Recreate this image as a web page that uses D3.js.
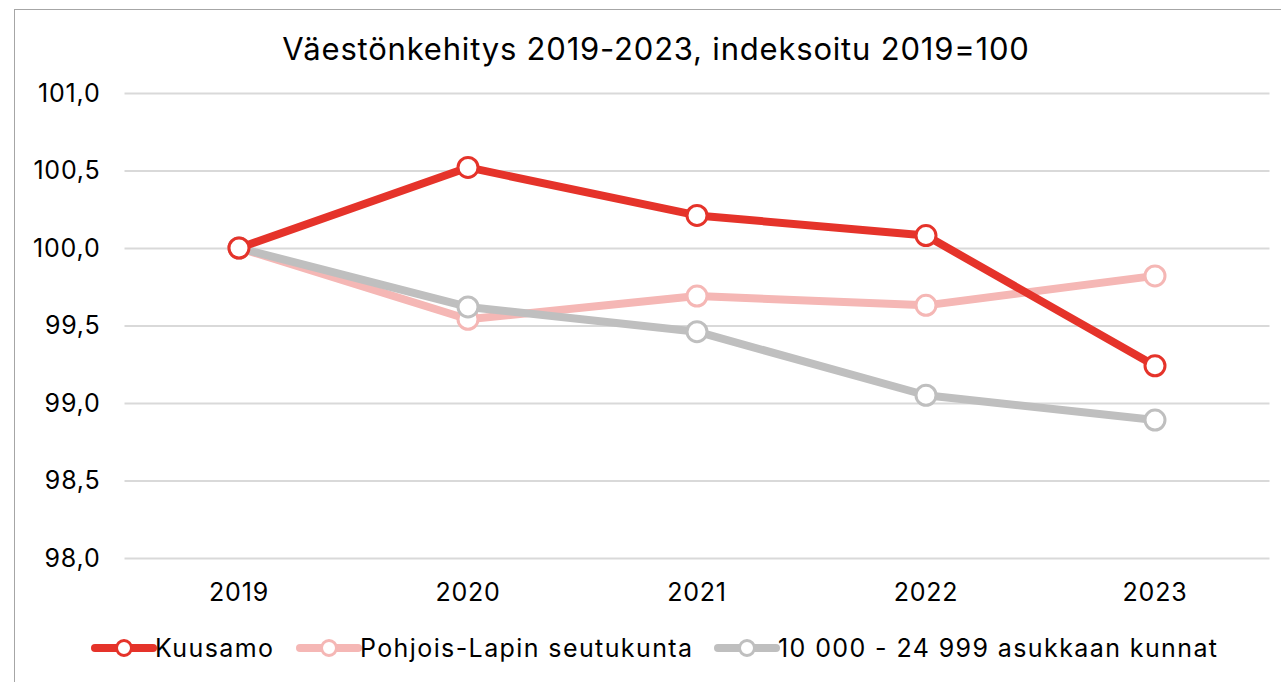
<!DOCTYPE html>
<html><head><meta charset="utf-8">
<script src="https://cdn.jsdelivr.net/npm/d3@7"></script>
<style>body{margin:0;background:#fff;} svg{display:block;font-family:Inter,"Open Sans",sans-serif;}</style>
</head><body>
<script>
const years = ["2019","2020","2021","2022","2023"];
const kuusamo = [100.0, 100.52, 100.21, 100.08, 99.24];
const pohjoisLappi = [100.0, 99.54, 99.69, 99.63, 99.82];
const kunnat = [100.0, 99.62, 99.46, 99.05, 98.89];
const seriesNames = ["Kuusamo","Pohjois-Lapin seutukunta","10 000 - 24 999 asukkaan kunnat"];
const yTicks = [98.0, 98.5, 99.0, 99.5, 100.0, 100.5, 101.0];
const title = "Väestönkehitys 2019-2023, indeksoitu 2019=100";

const W = 1281, H = 682;
const colors = ["#E5332A","#F5B7B5","#BFBFBF"];
const svg = d3.select("body").append("svg").attr("width",W).attr("height",H);
svg.append("rect").attr("x",14.5).attr("y",9.5).attr("width",1300).attr("height",700)
  .attr("fill","#fff").attr("stroke","#a6a6a6").attr("stroke-width",1);

const x = d3.scaleBand().domain(years).range([124.5,1269.5]);
const y = d3.scaleLinear().domain([98,101]).range([558,93]);

svg.append("text").attr("x",656).attr("y",60).attr("text-anchor","middle")
  .attr("font-size",31).attr("letter-spacing","0.8px").attr("fill","#000").text(title);

const gy = svg.append("g").attr("transform","translate(124.5,0)")
  .call(d3.axisLeft(y).tickValues(yTicks).tickSize(-(1269.5-124.5)).tickPadding(24)
    .tickFormat(d=>d3.format(".1f")(d).replace(".",",")));
gy.select(".domain").remove();
gy.selectAll(".tick line").attr("stroke","#d9d9d9").attr("stroke-width",2);
gy.selectAll(".tick text").attr("font-size",25).attr("letter-spacing","0.8px").attr("fill","#000").attr("font-family","Inter,'Open Sans',sans-serif");

const gx = svg.append("g").attr("transform","translate(0,558)")
  .call(d3.axisBottom(x).tickSize(0).tickPadding(25));
gx.select(".domain").remove();
gx.selectAll(".tick text").attr("font-size",25).attr("letter-spacing","0.8px").attr("fill","#000").attr("font-family","Inter,'Open Sans',sans-serif");

const data = [kuusamo, pohjoisLappi, kunnat];
const line = d3.line().x((d,i)=>x(years[i])+x.bandwidth()/2).y(d=>y(d));
// draw order: pink, gray, red on top
[1,2,0].forEach(si=>{
  const g = svg.append("g");
  g.append("path").datum(data[si]).attr("d",line).attr("fill","none")
    .attr("stroke",colors[si]).attr("stroke-width",8).attr("stroke-linejoin","round");
  g.selectAll("circle").data(data[si]).join("circle")
    .attr("cx",(d,i)=>x(years[i])+x.bandwidth()/2).attr("cy",d=>y(d)).attr("r",10)
    .attr("fill","#fff").attr("stroke",colors[si]).attr("stroke-width",3);
});

// legend
const legX = [95, 300, 718];
const lg = svg.append("g");
seriesNames.forEach((n,i)=>{
  const g = lg.append("g").attr("transform",`translate(${legX[i]},648)`);
  g.append("line").attr("x1",0).attr("x2",58).attr("stroke",colors[i]).attr("stroke-width",8).attr("stroke-linecap","round");
  g.append("circle").attr("cx",29).attr("r",7.5).attr("fill","#fff").attr("stroke",colors[i]).attr("stroke-width",3);
  g.append("text").attr("x",60).attr("y",9).attr("font-size",25).attr("letter-spacing","1.4px").attr("fill","#000").text(n);
});
</script>
</body></html>
